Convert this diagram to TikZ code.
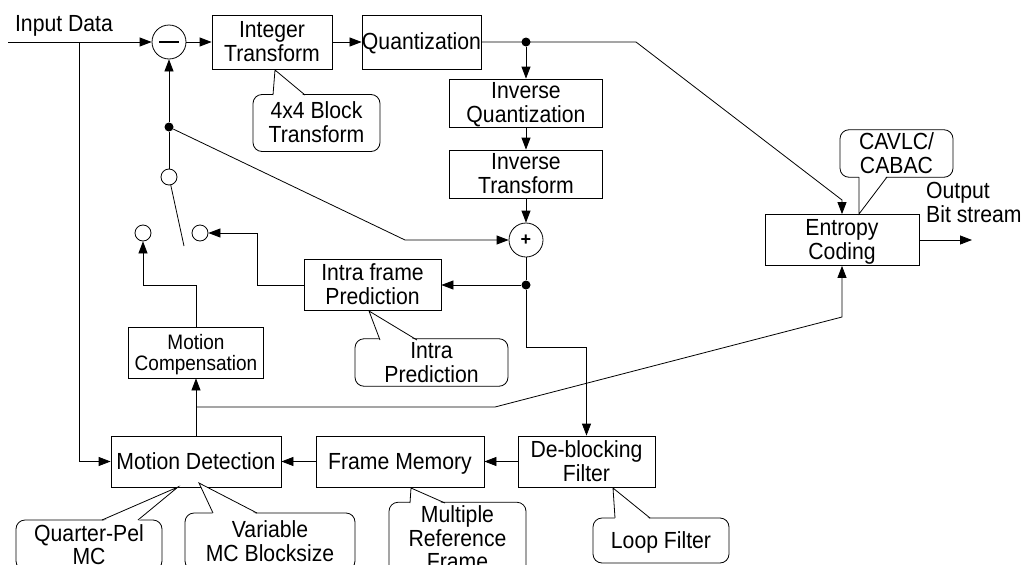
\documentclass[tikz,border=0pt]{standalone}
\usepackage{fontspec}
\usepackage{graphicx}
\setmainfont{Liberation Sans}
\usetikzlibrary{arrows.meta,calc}
\newcommand\diagfont{\fontsize{21.2}{21.4}\selectfont}
\newcommand\mcfont{\fontsize{19}{19.6}\selectfont}
\newcommand\tx[1]{\raisebox{-3pt}[\height][\depth]{\scalebox{1}[1.1]{\begin{tabular}{@{}c@{}}#1\end{tabular}}}}
\newcommand\txl[1]{\raisebox{-3pt}[\height][\depth]{\scalebox{1}[1.1]{\begin{tabular}{@{}l@{}}#1\end{tabular}}}}
\newcommand\calltail[4]{%
  \fill[white] ($#1+#4$) -- #2 -- ($#3+#4$) -- cycle;
  \draw[ln] #1 -- #2 -- #3;}
\tikzset{
  ln/.style={line width=0.8pt},
  arr/.style={line width=0.8pt,-{Triangle[length=12pt,width=9pt]}},
  box/.style={draw,line width=0.8pt,fill=white,inner sep=0pt,font=\diagfont},
  callout/.style={draw,line width=0.8pt,fill=white,rounded corners=9pt,inner sep=0pt,font=\diagfont},
  dotn/.style={circle,fill=black,inner sep=0pt,minimum size=9pt},
  swc/.style={circle,draw,line width=0.8pt,fill=white,inner sep=0pt,minimum size=16pt},
  sumc/.style={circle,draw,line width=0.8pt,fill=white,inner sep=0pt,minimum size=34pt},
  lbl/.style={inner sep=0pt,font=\diagfont}
}
\begin{document}
\begin{tikzpicture}[x=1pt,y=-1pt]
\useasboundingbox (0,0) rectangle (1023,565);
\clip (0,0) rectangle (1023,565);
\fill[white] (0,0) rectangle (1023,565);

% blocks
\node[box,minimum width=120pt,minimum height=54pt] (it) at (272,42) {\tx{Integer\\Transform}};
\node[box,minimum width=119pt,minimum height=54pt] (q) at (421.5,42) {\tx{Quantization}};
\node[box,minimum width=153pt,minimum height=48pt] (iq) at (526,103) {\tx{Inverse\\Quantization}};
\node[box,minimum width=153pt,minimum height=48pt] (itr) at (526,174) {\tx{Inverse\\Transform}};
\node[box,minimum width=137pt,minimum height=51pt] (ip) at (372.5,285) {\tx{Intra frame\\Prediction}};
\node[box,minimum width=154pt,minimum height=51pt] (ec) at (842,240) {\tx{Entropy\\Coding}};
\node[box,minimum width=135pt,minimum height=51pt,font=\mcfont] (mc) at (196,352.5) {\tx{Motion\\Compensation}};
\node[box,minimum width=170pt,minimum height=51pt] (md) at (196,461.5) {\tx{Motion Detection}};
\node[box,minimum width=168pt,minimum height=51pt] (fm) at (400,461.5) {\tx{Frame Memory}};
\node[box,minimum width=137pt,minimum height=51pt] (db) at (586.5,461.5) {\tx{De-blocking\\Filter}};

% circles and dots
\node[sumc,path picture={\draw[line width=2pt] ([xshift=-10pt]path picture bounding box.center) -- ([xshift=10pt]path picture bounding box.center);}] (mn) at (169,42) {};
\node[sumc,font=\fontsize{18}{18}\selectfont\bfseries] (pl) at (526,240) {+};
\node[swc] (s1) at (169,177) {};
\node[swc] (s2) at (143,233) {};
\node[swc] (s3) at (200,233) {};
\node[dotn] (dq) at (526,42) {};
\node[dotn] (da) at (526,285) {};
\node[dotn] (dm) at (169,127) {};

% labels
\node[lbl] (inl) at (64,24) {\tx{Input Data}};
\node[lbl,anchor=west] (outl) at (926,203) {\txl{Output\\Bit stream}};

% coordinates
\coordinate (in) at (8,42);
\coordinate (inj) at (79,42);
\coordinate (qk) at (636,42);
\coordinate (ek) at (842,200);
\coordinate (dk) at (526,347);
\coordinate (mj) at (196,407);
\coordinate (mk) at (495,407);
\coordinate (mk2) at (842,317);
\coordinate (mcu) at (196,285);
\coordinate (mcl) at (143,285);
\coordinate (ipk) at (257,285);
\coordinate (dk2) at (405,240);
\coordinate (sw) at (184,246);
\coordinate (out) at (972,240);

% connectors
\draw[arr] (in) -- (mn);
\draw[arr] (inj) |- (md);
\draw[arr] (mn) -- (it);
\draw[arr] (it) -- (q);
\draw[arr] (q) -- (qk) -- (ek) -- (ec);
\draw[arr] (dq) -- (iq);
\draw[arr] (iq) -- (itr);
\draw[arr] (itr) -- (pl);
\draw[ln] (pl) -- (da);
\draw[arr] (da) -- (ip);
\draw[arr] (da) -- (dk) -| (db);
\draw[arr] (db) -- (fm);
\draw[arr] (fm) -- (md);
\draw[arr] (md) -- (mc);
\draw[arr] (mj) -- (mk) -- (mk2) -- (ec);
\draw[arr] (mc) -- (mcu) -- (mcl) -- (s2);
\draw[arr] (ip) -- (ipk) |- (s3);
\draw[arr] (s1) -- (dm) -- (mn);
\draw[arr] (dm) -- (dk2) -- (pl);
\draw[ln] (s1) -- (sw);
\draw[arr] (ec) -- (out);

% callouts
\node[callout,minimum width=127pt,minimum height=57pt] (c1) at (316.5,123) {\tx{4x4 Block\\Transform}};
\calltail{(273,95)}{(275,70)}{(305,95)}{(0,1.5)}
\node[callout,minimum width=113pt,minimum height=47pt] (c2) at (896.5,153.5) {\tx{CAVLC/\\CABAC}};
\calltail{(859,177)}{(859,214)}{(887,177)}{(0,-1.5)}
\node[callout,minimum width=153pt,minimum height=45pt] (c3) at (431.5,362.5) {\tx{Intra\\Prediction}};
\calltail{(380,340)}{(369,311)}{(417,340)}{(0,1.5)}
\node[callout,minimum width=146pt,minimum height=50pt] (c4) at (89,545) {\tx{Quarter-Pel\\MC}};
\calltail{(102,520)}{(178,487)}{(138,520)}{(0,1.5)}
\node[callout,minimum width=170pt,minimum height=57pt] (c5) at (270,541.5) {\tx{Variable\\MC Blocksize}};
\calltail{(213,513)}{(199,483)}{(257,513)}{(0,1.5)}
\node[callout,minimum width=137pt,minimum height=70pt] (c6) at (457.5,538) {\tx{Multiple\\Reference\\Frame}};
\calltail{(410,503)}{(411,488)}{(445,503)}{(0,1.5)}
\node[callout,minimum width=136pt,minimum height=45pt] (c7) at (661,540.5) {\tx{Loop Filter}};
\calltail{(615,518)}{(613,488)}{(650,518)}{(0,1.5)}
\end{tikzpicture}
\end{document}
